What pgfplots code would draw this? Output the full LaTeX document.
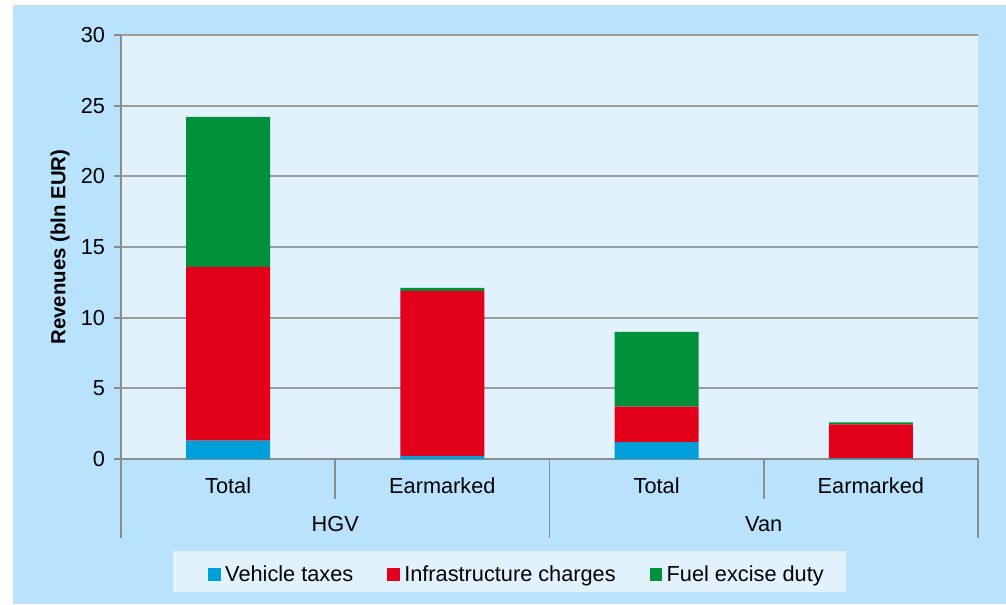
\documentclass[border=0pt]{standalone}
\usepackage{pgfplots}
\pgfplotsset{compat=1.18}
\usepackage{fontspec}
\setmainfont{Liberation Sans}
\definecolor{pagebg}{HTML}{B9E3FD}
\definecolor{plotbg}{HTML}{E1F2FD}
\definecolor{cblue}{HTML}{009FDA}
\definecolor{cred}{HTML}{E2001A}
\definecolor{cgreen}{HTML}{00913A}
\definecolor{axgray}{HTML}{8C8C8C}
\definecolor{gridgray}{HTML}{9C9C9C}
\begin{document}
\begin{tikzpicture}
% page background
\fill[white] (-90.75pt,-108.75pt) rectangle (663.75pt,344.25pt);
\fill[pagebg] (-81pt,-108.75pt) rectangle (663.75pt,340.5pt);
% legend box
\fill[plotbg] (39pt,-99.75pt) rectangle (543.75pt,-69pt);
\begin{axis}[
  at={(0,0)}, anchor=south west,
  scale only axis,
  width=642.75pt, height=318pt,
  axis background/.style={fill=plotbg},
  ybar stacked,
  bar width=0.392,
  xmin=0, xmax=4,
  ymin=0, ymax=30,
  ytick={0,5,...,30},
  xtick={0.5,1.5,2.5,3.5},
  xticklabels={Total,Earmarked,Total,Earmarked},
  axis x line*=bottom,
  axis y line*=left,
  axis line style={draw=axgray, line width=1.3pt},
  ymajorgrids,
  grid style={draw=gridgray, line width=1.3pt},
  y tick style={draw=axgray, line width=1.3pt},
  x tick style={draw=none},
  tick align=outside,
  major tick length=5.25pt,
  ytick pos=left,
  xtick pos=bottom,
  /pgf/number format/assume math mode=true,
  tick label style={font=\fontsize{16.3}{19}\selectfont, text=black},
  yticklabel style={xshift=-3.2pt},
  xticklabel style={anchor=center, yshift=-14.5pt},
  ylabel={Revenues (bln EUR)},
  ylabel style={at={(axis description cs:0,0.5)}, anchor=center, yshift=45.75pt, font=\fontsize{15.3}{18}\selectfont\bfseries},
  clip=false,
  legend columns=3,
  legend style={at={(0.4609,-0.2724)}, anchor=center, draw=none, fill=none,
    font=\fontsize{16.3}{19}\selectfont,
    nodes={inner xsep=0pt, inner ysep=2pt},
    /tikz/every odd column/.append style={column sep=3.45pt},
    /tikz/every even column/.append style={column sep=25.5pt}},
  legend image code/.code={\fill[#1] (0pt,-4.65pt) rectangle (9.3pt,4.65pt);},
]
\addplot[fill=cblue, draw=none] coordinates {(0.5,1.3) (1.5,0.2) (2.5,1.2) (3.5,0.05)};
\addlegendentry{Vehicle taxes}
\addplot[fill=cred, draw=none] coordinates {(0.5,12.3) (1.5,11.7) (2.5,2.5) (3.5,2.4)};
\addlegendentry{Infrastructure charges}
\addplot[fill=cgreen, draw=none] coordinates {(0.5,10.6) (1.5,0.2) (2.5,5.3) (3.5,0.15)};
\addlegendentry{Fuel excise duty}
% category separators
\draw[axgray, line width=1.3pt] (axis cs:0,0) -- ++(0,-59.25pt);
\draw[axgray, line width=1.3pt] (axis cs:1,0) -- ++(0,-30pt);
\draw[axgray, line width=1.3pt] (axis cs:2,0) -- ++(0,-59.25pt);
\draw[axgray, line width=1.3pt] (axis cs:3,0) -- ++(0,-30pt);
\draw[axgray, line width=1.3pt] (axis cs:4,0) -- ++(0,-59.25pt);
\node[font=\fontsize{16.3}{19}\selectfont] at (axis cs:1,0) [yshift=-48.75pt] {HGV};
\node[font=\fontsize{16.3}{19}\selectfont] at (axis cs:3,0) [yshift=-48.75pt] {Van};
\end{axis}
\end{tikzpicture}
\end{document}
